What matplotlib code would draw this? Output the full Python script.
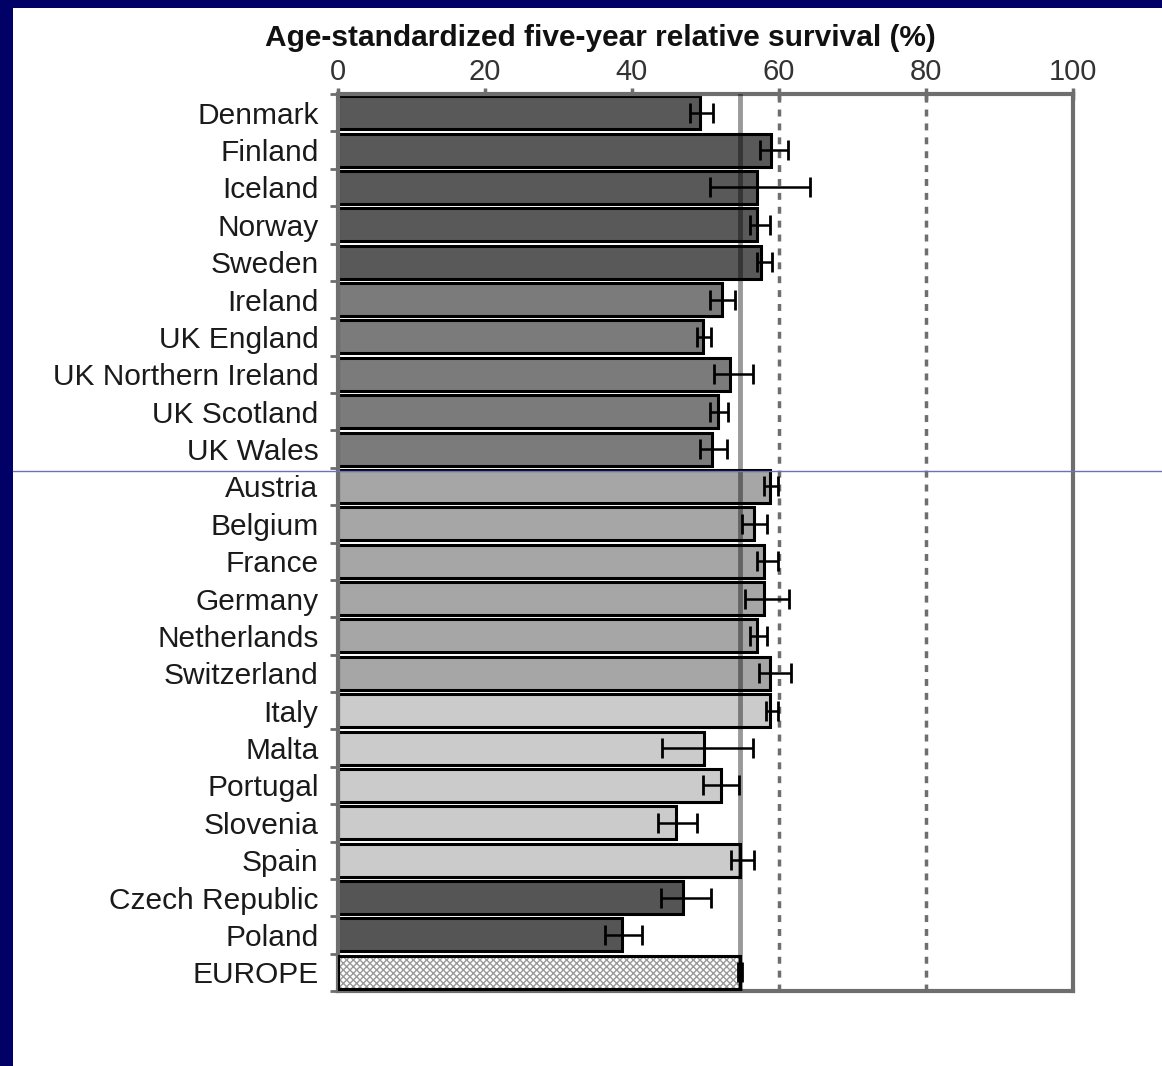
import matplotlib
matplotlib.use("Agg")
import matplotlib.pyplot as plt
from matplotlib.lines import Line2D
from matplotlib.patches import Rectangle
import numpy as np

plt.rcParams['font.family'] = ['Liberation Sans', 'DejaVu Sans']

countries = ["Denmark", "Finland", "Iceland", "Norway", "Sweden", "Ireland",
             "UK England", "UK Northern Ireland", "UK Scotland", "UK Wales",
             "Austria", "Belgium", "France", "Germany", "Netherlands",
             "Switzerland", "Italy", "Malta", "Portugal", "Slovenia", "Spain",
             "Czech Republic", "Poland", "EUROPE"]
survival = [49.3, 58.9, 57.0, 57.0, 57.6, 52.2, 49.7, 53.3, 51.7, 50.9,
            58.8, 56.6, 58.0, 57.9, 57.0, 58.8, 58.8, 49.8, 52.1, 46.0, 54.7,
            47.0, 38.7, 54.7]
ci_low = [47.9, 57.4, 50.6, 56.0, 57.0, 50.6, 48.8, 51.2, 50.6, 49.3,
          57.9, 55.0, 57.0, 55.4, 56.0, 57.3, 58.2, 44.1, 49.7, 43.6, 53.5,
          43.9, 36.3, 54.4]
ci_high = [51.0, 61.2, 64.2, 58.8, 59.0, 54.0, 50.8, 56.5, 53.1, 52.9,
           59.9, 58.3, 59.8, 61.3, 58.4, 61.6, 59.8, 56.5, 54.6, 48.9, 56.6,
           50.8, 41.3, 55.0]
region = ["north"] * 5 + ["uk"] * 5 + ["west"] * 6 + ["south"] * 5 + ["east"] * 2 + ["europe"]
region_colors = {"north": "#595959", "uk": "#7b7b7b", "west": "#a6a6a6",
                 "south": "#cbcbcb", "east": "#555555", "europe": "#ffffff"}
europe_value = 54.7
ref_lines = [60, 80]
xticks = [0, 20, 40, 60, 80, 100]
title = "Age-standardized five-year relative survival (%)"

W, H = 1162, 1066
fig = plt.figure(figsize=(W / 100, H / 100), dpi=100, facecolor="white")
# navy frame strips
fig.patches.append(Rectangle((0, 0), 13 / W, 1, transform=fig.transFigure,
                             facecolor="#000066", edgecolor="none", zorder=0))
fig.patches.append(Rectangle((0, 1 - 8 / H), 1, 8 / H, transform=fig.transFigure,
                             facecolor="#000066", edgecolor="none", zorder=0))

ax = fig.add_axes([338 / W, 1 - 991 / H, (1073 - 338) / W, (991 - 94) / H])
ax.set_zorder(2)
ax.set_facecolor("white")
y = np.arange(len(countries))
colors = [region_colors[r] for r in region]
vals = np.array(survival)
lo = vals - np.array(ci_low)
hi = np.array(ci_high) - vals

for i in range(len(countries)):
    if region[i] == "europe":
        ax.barh(y[i], vals[i], height=0.88, color="white", edgecolor="#9a9a9a",
                hatch="xxxxx", linewidth=0, zorder=2)
        ax.barh(y[i], vals[i], height=0.88, color="none", edgecolor="black",
                linewidth=2.2, zorder=3)
    else:
        ax.barh(y[i], vals[i], height=0.88, color=colors[i], edgecolor="black",
                linewidth=2.2, zorder=2)

ax.errorbar(vals, y, xerr=[lo, hi], fmt="none", ecolor="black", elinewidth=1.8,
            capsize=7, capthick=2, zorder=5)

ax.axvline(europe_value, color="black", alpha=0.4, linewidth=3.5, zorder=4)
for v in ref_lines:
    ax.axvline(v, color="#6e6e6e", linewidth=2.5, linestyle=(0, (2, 2)), zorder=1)

ax.set_xlim(0, 100)
ax.set_ylim(len(countries) - 0.5, -0.5)
ax.xaxis.tick_top()
ax.set_xticks(xticks)
ax.set_xticklabels([str(t) for t in xticks], fontsize=21, color="#333333")
ax.tick_params(axis="x", which="major", direction="inout", length=9, width=2.5,
               color="#6e6e6e", pad=1)
ax.set_yticks(y)
ax.set_yticklabels(countries, fontsize=21.5, color="#1a1a1a")
ax.tick_params(axis="y", which="major", length=0, pad=14)
ax.set_yticks(np.arange(len(countries) + 1) - 0.5, minor=True)
ax.tick_params(axis="y", which="minor", length=6, width=2, color="#6e6e6e", direction="out")
for s in ax.spines.values():
    s.set_color("#6e6e6e")
    s.set_linewidth(3)

fig.text(600 / W, 1 - 38 / H, title, fontsize=21.5, fontweight="bold",
         ha="center", va="center", color="#111111")

fig.add_artist(Line2D([13 / W, 1], [1 - 471 / H, 1 - 471 / H], transform=fig.transFigure,
                      color="#7070b8", linewidth=1, zorder=10))

fig.savefig("out.png", dpi=100, facecolor=fig.get_facecolor())
